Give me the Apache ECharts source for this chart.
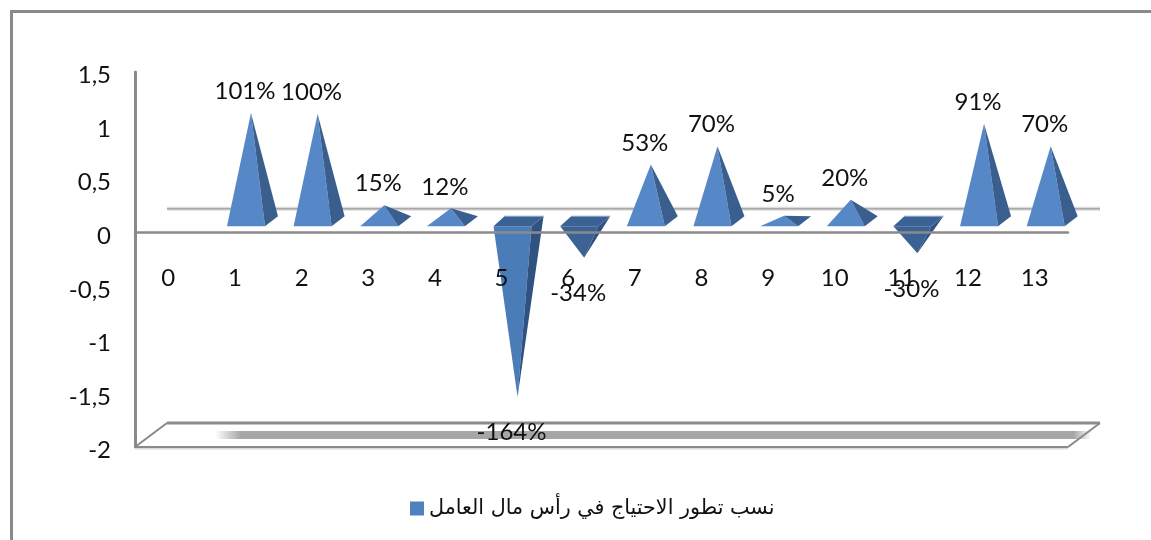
<!DOCTYPE html>
<html lang="ar">
<head>
	<meta charset="UTF-8">
	<title>chart</title>
	<style type="text/css">
	body,html{
		width: 100%;
		height: 100%;
		margin: 0;
		padding: 0;
		background: #fff;
		overflow: hidden;
	}
	#main{
		width: 1151px;
		height: 540px;
	}
	</style>
</head>
<body>
	<div id="main"></div>
<script type="text/javascript" src="https://cdn.jsdelivr.net/npm/echarts@6/dist/echarts.min.js"></script>
<script type="text/javascript">
	var categories = ['0','1','2','3','4','5','6','7','8','9','10','11','12','13'];
	var values = [null,1.01,1.00,0.15,0.12,-1.64,-0.34,0.53,0.70,0.05,0.20,-0.30,0.91,0.70];
	var seriesName = 'نسب تطور الاحتياج في رأس مال العامل';
	var grey = '#8a8a8a';
	var labelFont = '24px Lato';

	var seriesData = values.map(function (v, i) {
		return [i, v];
	});

	/* the pyramids are drawn from the value axis, then shifted like the 3D look of the original */
	function renderPyramid(params, api) {
		var v = values[api.value(0)];
		if (v === null) {
			return;
		}
		var tip = api.coord([api.value(0), v]);
		var zero = api.coord([api.value(0), 0]);
		var cx = tip[0];
		var apex = [cx + 16, tip[1] - 11.5];
		var left = [cx - 8, zero[1] - 6.5];
		var right = [cx + 30, zero[1] - 6.5];
		var children = [];
		if (v > 0) {
			var corner = [cx + 43, zero[1] - 16.5];
			children.push({type: 'polygon', shape: {points: [left, apex, right]}, style: {fill: '#5688c8'}});
			children.push({type: 'polygon', shape: {points: [right, apex, corner]}, style: {fill: '#3a5f8f'}});
		} else {
			var backL = [cx + 3, zero[1] - 16.5];
			var backR = [cx + 42, zero[1] - 16.5];
			var deep = v < -1;
			children.push({type: 'polygon', shape: {points: [left, right, apex]}, style: {fill: deep ? '#4a7cb8' : '#3b6294'}});
			children.push({type: 'polygon', shape: {points: [right, backR, apex]}, style: {fill: '#2f5280'}});
			children.push({type: 'polygon', shape: {points: [left, backL, backR, right]}, style: {fill: '#3b6294'}});
			children.push({type: 'line', shape: {x1: backL[0], y1: backL[1], x2: backR[0], y2: backR[1]}, style: {stroke: '#8fa8c8', lineWidth: 1}});
		}
		children.push({
			type: 'text',
			z2: 10,
			style: {
				text: Math.round(v * 100) + '%',
				x: cx + 10,
				y: tip[1] + (v > 0 ? -33 : 24),
				fill: '#111',
				font: labelFont,
				align: 'center',
				verticalAlign: 'middle'
			}
		});
		return {type: 'group', children: children};
	}

	/* back wall line, floor and the grey band lying on it */
	function renderFloor(params, api) {
		var g = params.coordSys;
		var zeroY = api.coord([0, 0])[1];
		var x0 = g.x, x1 = g.x + g.width, y0 = g.y + g.height;
		var dx = 32, dy = 24;
		return {
			type: 'group',
			children: [
				{type: 'line', shape: {x1: x0 + dx, y1: zeroY - dy, x2: x1 + dx, y2: zeroY - dy}, style: {stroke: '#dcdcdc', lineWidth: 4}},
				{type: 'line', shape: {x1: x0 + dx, y1: zeroY - dy, x2: x1 + dx, y2: zeroY - dy}, style: {stroke: '#a8a8a8', lineWidth: 1.5}},
				{type: 'rect', shape: {x: x0 + 80, y: y0 - 16, width: x1 - x0 - 57, height: 8}, style: {
					fill: new echarts.graphic.LinearGradient(0, 0, 1, 0, [
						{offset: 0, color: 'rgba(166,166,166,0)'},
						{offset: 0.03, color: '#a6a6a6'},
						{offset: 0.98, color: '#a6a6a6'},
						{offset: 1, color: 'rgba(166,166,166,0)'}
					])
				}},
				{type: 'line', shape: {x1: x0 + dx, y1: y0 - dy, x2: x1 + dx, y2: y0 - dy}, style: {stroke: grey, lineWidth: 3}},
				{type: 'line', shape: {x1: x0, y1: y0 + 1, x2: x1, y2: y0 + 1}, style: {stroke: '#dcdcdc', lineWidth: 3}},
				{type: 'line', shape: {x1: x0, y1: y0, x2: x1, y2: y0}, style: {stroke: grey, lineWidth: 2}},
				{type: 'line', shape: {x1: x0, y1: y0, x2: x0 + dx, y2: y0 - dy}, style: {stroke: grey, lineWidth: 2}},
				{type: 'line', shape: {x1: x1, y1: y0, x2: x1 + dx, y2: y0 - dy}, style: {stroke: grey, lineWidth: 2}}
			]
		};
	}

	var chart = echarts.init(document.getElementById('main'));
	var option = {
		animation: false,
		backgroundColor: '#fff',
		graphic: [{
			type: 'polyline',
			silent: true,
			shape: {points: [[11.5, 540], [11.5, 11.5], [1151, 11.5]]},
			style: {stroke: grey, lineWidth: 3, fill: 'none'}
		}],
		grid: {left: 135, right: 83, top: 72, bottom: 93},
		legend: {
			data: [seriesName],
			left: 405,
			top: 493,
			icon: 'rect',
			itemWidth: 14,
			itemHeight: 14,
			selectedMode: false,
			textStyle: {fontFamily: 'DejaVu Sans', fontSize: 20.7, color: '#111'}
		},
		xAxis: {
			type: 'category',
			data: categories,
			z: 5,
			axisLine: {onZero: true, lineStyle: {color: grey, width: 2.5}},
			axisTick: {show: false},
			axisLabel: {interval: 0, margin: -181, color: '#111', fontFamily: 'Lato', fontSize: 24}
		},
		yAxis: {
			type: 'value',
			min: -2,
			max: 1.5,
			interval: 0.5,
			axisLine: {show: true, lineStyle: {color: grey, width: 3}},
			axisTick: {show: false},
			splitLine: {show: false},
			axisLabel: {
				margin: 24,
				formatter: function (v) {
					return '{a|' + String(v).replace('.', ',') + '}';
				},
				rich: {
					a: {color: '#111', fontFamily: 'Lato', fontSize: 24, padding: [7, 0, 0, 0]}
				}
			}
		},
		series: [{
			name: 'floor',
			type: 'custom',
			silent: true,
			z: 1,
			renderItem: renderFloor,
			data: [[0, 0]],
			clip: false
		}, {
			name: seriesName,
			type: 'custom',
			z: 3,
			itemStyle: {color: '#4f81bd'},
			renderItem: renderPyramid,
			encode: {x: 0, y: 1},
			data: seriesData,
			clip: false
		}]
	};
	chart.setOption(option);
	window.addEventListener("resize", function () {
		chart.resize();
	});
</script>
</body>
</html>
